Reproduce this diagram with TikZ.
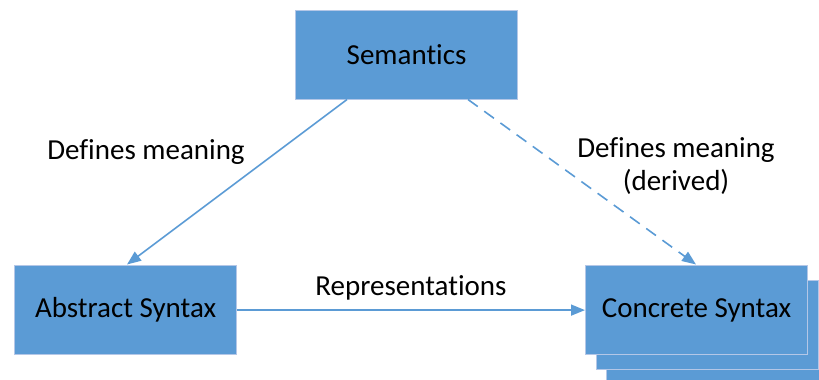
\documentclass[tikz,border=0pt]{standalone}
\usepackage{fontspec}
\setmainfont[Ligatures={NoCommon,NoContextual}]{Carlito}
\usetikzlibrary{arrows.meta}
\definecolor{boxblue}{HTML}{5B9BD5}
\definecolor{boxedge}{HTML}{B4C7E7}
\newcommand{\tisplit}{t\kern0pt i}
\begin{document}
\begin{tikzpicture}[x=1pt,y=-1pt,
  blk/.style={draw=boxedge, line width=1.2pt, fill=boxblue, minimum width=222pt, minimum height=89pt, inner sep=0pt, font=\fontsize{29}{34}\selectfont, anchor=north west},
  conn/.style={draw=boxblue, line width=1.6pt, -{Triangle[length=14pt,width=11pt]}},
  lbl/.style={font=\fontsize{29}{33}\selectfont, align=center, inner sep=0pt}]
\useasboundingbox (0,0) rectangle (819,380);
\begin{scope}
\clip (0,0) rectangle (819,380);
\node[blk] (c3) at (606,294) {};
\node[blk] (c2) at (596,280) {};
\end{scope}
\node[blk] (sem) at (295,10) {Seman\tisplit cs};
\node[blk] (abs) at (14,265) {Abstract Syntax};
\node[blk] (con) at (585,265) {Concrete Syntax};
\coordinate (s1) at (347,99.5);
\coordinate (s2) at (468,99.5);
\coordinate (a1) at (127,264.5);
\coordinate (c1) at (696,264.5);
\draw[conn] (s1) -- (a1);
\draw[conn, dash pattern=on 12pt off 8pt] (s2) -- (c1);
\draw[conn] (abs.east) -- (con.west);
\node[lbl] (l1) at (146,152) {Defines meaning};
\node[lbl] (l2) at (676,166) {Defines meaning\\(derived)};
\node[lbl] (l3) at (411,288) {Representa\tisplit ons};
\end{tikzpicture}
\end{document}
